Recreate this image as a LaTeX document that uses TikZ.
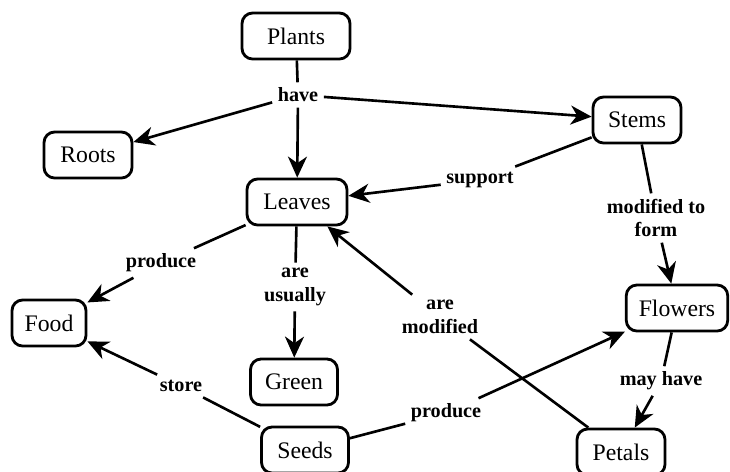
\documentclass[tikz,border=0pt]{standalone}
\usepackage{fontspec}
\setmainfont{Liberation Serif}
\usetikzlibrary{arrows.meta}

\tikzset{
  concept/.style={draw, line width=1.6pt, rounded corners=6pt, minimum height=0.92cm,
    inner xsep=0.25cm, font=\fontsize{13.5}{15}\selectfont},
  link/.style={font=\bfseries\fontsize{11.5}{13.5}\selectfont, align=center, inner sep=3pt},
  conn/.style={line width=1.5pt},
  arr/.style={line width=1.5pt, -{Stealth[length=4.2mm,width=3.8mm,inset=1.3mm]}}
}

\begin{document}
\begin{tikzpicture}[x=0.02cm,y=-0.02cm]
  \useasboundingbox (0,0) rectangle (730,471);

  % Concepts
  \node[concept, minimum width=2.16cm] (plants)  at (296,36)  {Plants};
  \node[concept, minimum width=1.76cm] (roots)   at (88,155)  {Roots};
  \node[concept, minimum width=1.76cm] (stems)   at (637,120) {Stems};
  \node[concept, minimum width=2.0cm]  (leaves)  at (297,202) {Leaves};
  \node[concept, minimum width=1.48cm] (food)    at (49,323)  {Food};
  \node[concept, minimum width=1.74cm] (green)   at (294,382) {Green};
  \node[concept, minimum width=1.8cm]  (flowers) at (677,308) {Flowers};
  \node[concept, minimum width=1.74cm] (seeds)   at (305,450) {Seeds};
  \node[concept, minimum width=1.76cm] (petals)  at (621,452) {Petals};

  % Linking phrases
  \node[link] (have)     at (298,95)  {have};
  \node[link] (support)  at (480,180) {support};
  \node[link] (produceA) at (161,263) {produce};
  \node[link] (usually)  at (295,287) {are\\usually};
  \node[link] (modified) at (440,317) {are\\modified};
  \node[link] (toform)   at (656,218) {modified to\\form};
  \node[link] (store)    at (181,386) {store};
  \node[link] (produceB) at (446,413) {produce};
  \node[link] (mayhave)  at (661,381) {may have};

  % Plants have ...
  \draw[conn] (plants) -- (have);
  \draw[arr] (have) -- (roots);
  \draw[arr] (have) -- (leaves);
  \draw[arr] (have) -- (stems);

  % Stems
  \draw[conn] (stems) -- (support);
  \draw[arr] (support) -- (leaves);
  \draw[conn] (stems) -- (toform);
  \draw[arr] (toform) -- (flowers);

  % Leaves
  \draw[conn] (leaves) -- (produceA);
  \draw[arr] (produceA) -- (food);
  \draw[conn] (leaves) -- (usually);
  \draw[arr] (usually) -- (green);

  % Petals are modified leaves
  \draw[conn] (petals) -- (modified);
  \draw[arr] (modified) -- (leaves);

  % Seeds
  \draw[conn] (seeds) -- (store);
  \draw[arr] (store) -- (food);
  \draw[conn] (seeds) -- (produceB);
  \draw[arr] (produceB) -- (flowers);

  % Flowers
  \draw[conn] (flowers) -- (mayhave);
  \draw[arr] (mayhave) -- (petals);
\end{tikzpicture}
\end{document}
